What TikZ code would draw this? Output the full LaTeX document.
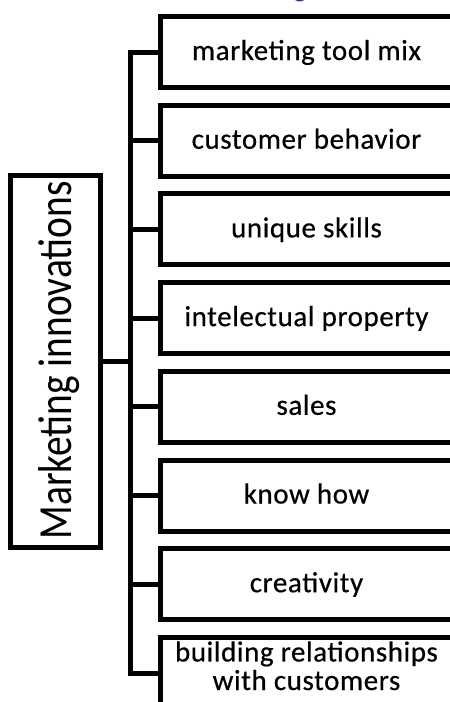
\documentclass[tikz,border=0pt]{standalone}
\usepackage{fontspec}
\setmainfont{Carlito}
\newfontfamily\boxfont[LetterSpace=2,FakeBold=0.5]{Carlito}
\usepackage{graphicx}
\definecolor{titleblue}{HTML}{2B3990}
\tikzset{
  box/.style={draw, line width=5pt, line join=miter, rectangle, inner sep=0pt,
    minimum width=292pt, minimum height=71pt,
    font=\boxfont\fontsize{29}{28}\selectfont},
  boxtxt/.style={box, text height=24pt, text depth=8pt},
  link/.style={line width=5pt, line join=miter},
}
\begin{document}
\begin{tikzpicture}[x=1pt,y=-1pt]
\useasboundingbox (0,0) rectangle (450,702);
\clip (0,0) rectangle (450,702);
\node[font=\fontsize{26}{26}\selectfont\bfseries, text=titleblue, anchor=base, inner sep=0pt] (title) at (300,-3) {g};
% main box
\node[draw, line width=5pt, line join=miter, inner sep=0pt, minimum width=90pt, minimum height=372pt] (m) at (55.5,361.5) {};
\node[rotate=90, anchor=base, inner sep=0pt] (mt) at (71,360.5)
  {\resizebox{358pt}{33pt}{\fontsize{40}{40}\selectfont Marketing innovations}};
% right boxes
\node[boxtxt] (b1) at (306.5,52) {marketing tool mix};
\node[boxtxt] (b2) at (306.5,140.7) {customer behavior};
\node[boxtxt] (b3) at (306.5,229.4) {unique skills};
\node[boxtxt] (b4) at (306.5,318.1) {intelectual property};
\node[boxtxt] (b5) at (306.5,406.8) {sales};
\node[boxtxt] (b6) at (306.5,495.5) {know how};
\node[boxtxt] (b7) at (306.5,584.2) {creativity};
\node[box] (b8) at (306.5,673) {};
\node[anchor=base, inner sep=0pt, font=\boxfont\fontsize{29}{28}\selectfont] (b8t) at (306.5,690)
  {\begin{tabular}[b]{@{}c@{}}building relationships\\with customers\end{tabular}};
% spine
\coordinate (s1) at (130.5,52);
\coordinate (s8) at (130.5,673);
\draw[link] (b1.west) -- (s1) -- (s8) -- (b8.west);
\foreach \i in {2,...,7} {\draw[link] (b\i.west) -- (b\i.west -| s1);}
\draw[link] (m.east) -- (m.east -| s1);
\end{tikzpicture}
\end{document}
